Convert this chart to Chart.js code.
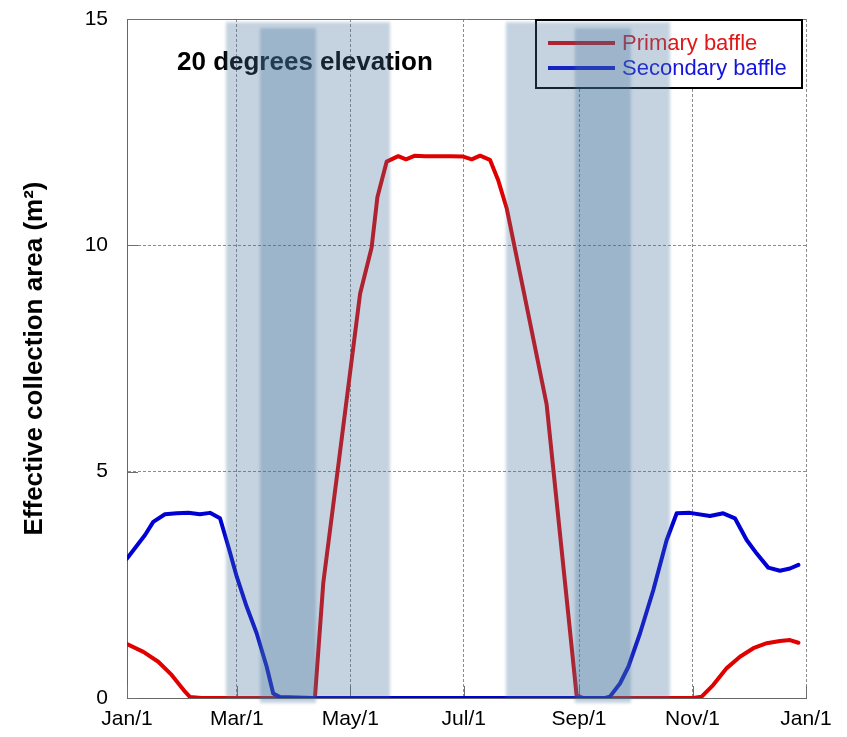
<!DOCTYPE html>
<html>
<head>
<meta charset="utf-8">
<title>Effective collection area</title>
<script src="https://cdn.jsdelivr.net/npm/chart.js@4.4.1/dist/chart.umd.min.js"></script>
<style>
  html, body { margin: 0; padding: 0; background: #fff; }
  #wrap { width: 847px; height: 737px; }
</style>
</head>
<body>
<div id="wrap"><canvas id="c" width="847" height="737"></canvas></div>
<script>
// Day of year (0 = Jan/1) for the x axis ticks
const tickDays = [0, 59, 120, 181, 243, 304, 365];
const tickLabels = ['Jan/1', 'Mar/1', 'May/1', 'Jul/1', 'Sep/1', 'Nov/1', 'Jan/1'];
const yTickValues = [0, 5, 10, 15];

// Primary baffle: effective area (m^2) by day of year
const primaryDays = [0, 8.8, 16.8, 24.0, 31.2, 33.9, 40, 60, 80, 101.0,
  105.5, 114.1, 125.3, 131.5, 134.6, 139.6, 145.8, 150.0, 154.8,
  160, 167, 174, 180.8, 185.3, 189.8, 195.1,
  199.6, 204.1, 213.4, 225.6, 241.7, 245.3,
  260, 280, 304.4,
  308.9, 315.2, 322.4, 329.5, 336.7, 343.9, 351.0, 356.4, 360.9];
const primaryValues = [1.19, 1.02, 0.80, 0.51, 0.14, 0.02, 0, 0, 0, 0,
  2.54, 5.30, 8.93, 9.95, 11.06, 11.85, 11.97, 11.90, 11.98,
  11.97, 11.97, 11.97, 11.96, 11.90, 11.98, 11.89,
  11.43, 10.82, 8.95, 6.48, 0.06, 0,
  0, 0, 0,
  0.03, 0.29, 0.66, 0.91, 1.10, 1.21, 1.26, 1.28, 1.22];

// Secondary baffle: effective area (m^2) by day of year
const secondaryDays = [0, 9.7, 14.1, 20.4, 26.7, 33.0, 39.2, 44.6, 50.0,
  54.5, 59.0, 64.3, 69.7, 75.1, 78.6, 82.2,
  100, 130, 160, 190, 220, 257,
  259.6, 265.0, 269.5, 275.8, 282.9, 290.1, 295.5, 302.6,
  313.4, 320.5, 326.8, 333.1, 338.5, 344.7, 351.0, 356.4, 360.9];
const secondaryValues = [3.08, 3.60, 3.89, 4.06, 4.08, 4.09, 4.06, 4.09, 3.97,
  3.34, 2.68, 2.02, 1.43, 0.69, 0.10, 0.02,
  0, 0, 0, 0, 0, 0,
  0.03, 0.32, 0.69, 1.43, 2.38, 3.49, 4.08, 4.09,
  4.02, 4.08, 3.97, 3.49, 3.19, 2.88, 2.81, 2.86, 2.94];

// Shaded date spans (day of year): wide periods and the narrower core periods
const wideSpans = [[53.2, 141.4], [203.7, 291.9]];
const coreSpans = [[71.5, 101.6], [240.8, 270.9]];

const FONT = "'Liberation Sans', Arial, Helvetica, sans-serif";
const toPoints = (days, vals) => days.map((d, i) => ({ x: d, y: vals[i] }));

// Inward tick marks and the solid top edge of the plot frame
const framePlugin = {
  id: 'frame',
  beforeDatasetsDraw(chart) {
    const { ctx, chartArea: a, scales: { x, y } } = chart;
    ctx.save();
    ctx.strokeStyle = '#6e6e6e';
    ctx.lineWidth = 1;
    ctx.beginPath();
    ctx.moveTo(a.left, Math.round(a.top) + 0.5);
    ctx.lineTo(a.right, Math.round(a.top) + 0.5);
    yTickValues.forEach(v => {
      const py = Math.round(y.getPixelForValue(v)) + 0.5;
      ctx.moveTo(a.left, py);
      ctx.lineTo(a.left + 11, py);
    });
    tickDays.forEach(d => {
      const px = Math.round(x.getPixelForValue(d)) + 0.5;
      ctx.moveTo(px, a.bottom);
      ctx.lineTo(px, a.bottom - 12);
    });
    ctx.stroke();
    ctx.restore();
  }
};

// Panel caption and the boxed legend inside the plot
const annotationPlugin = {
  id: 'annotations',
  afterDatasetsDraw(chart) {
    const { ctx, chartArea: a } = chart;
    ctx.save();
    ctx.fillStyle = '#000';
    ctx.font = 'bold 26px ' + FONT;
    ctx.textBaseline = 'alphabetic';
    ctx.textAlign = 'left';
    ctx.fillText('20 degrees elevation', a.left + 50, a.top + 51);

    const bx = a.right - 271, by = a.top, bw = 268, bh = 70;
    ctx.fillStyle = '#fff';
    ctx.fillRect(bx, by, bw, bh);
    ctx.strokeStyle = '#000';
    ctx.lineWidth = 2;
    ctx.strokeRect(bx + 1, by + 1, bw - 2, bh - 2);

    ctx.font = '22px ' + FONT;
    ctx.textBaseline = 'middle';
    chart.data.datasets.forEach((ds, i) => {
      const ly = by + 24 + i * 25;
      ctx.strokeStyle = ds.borderColor;
      ctx.lineWidth = 4;
      ctx.beginPath();
      ctx.moveTo(bx + 13, ly);
      ctx.lineTo(bx + 80, ly);
      ctx.stroke();
      ctx.fillStyle = ds.legendTextColor;
      ctx.fillText(ds.label, bx + 87, ly + 1);
    });
    ctx.restore();
  }
};

// Translucent shading of the date spans, laid over everything else
const shadePlugin = {
  id: 'shade',
  afterDraw(chart) {
    const { ctx, scales: { x, y } } = chart;
    ctx.save();
    ctx.filter = 'blur(1.5px)';
    ctx.fillStyle = 'rgba(68,113,155,0.31)';
    const fill = (spans, top, bottom) => spans.forEach(([d0, d1]) => {
      const l = x.getPixelForValue(d0), r = x.getPixelForValue(d1);
      const t = y.getPixelForValue(top), b = y.getPixelForValue(bottom);
      ctx.fillRect(l, t, r - l, b - t);
    });
    fill(wideSpans, 14.93, 0);
    fill(coreSpans, 14.8, -0.11);
    ctx.restore();
  }
};

new Chart(document.getElementById('c'), {
  type: 'line',
  data: {
    datasets: [
      {
        label: 'Primary baffle',
        data: toPoints(primaryDays, primaryValues),
        borderColor: '#e00000',
        legendTextColor: '#e01818',
        borderWidth: 4,
        pointRadius: 0,
        tension: 0,
        borderJoinStyle: 'round',
        borderCapStyle: 'round',
        order: 1
      },
      {
        label: 'Secondary baffle',
        data: toPoints(secondaryDays, secondaryValues),
        borderColor: '#0000d4',
        legendTextColor: '#1414dc',
        borderWidth: 4,
        pointRadius: 0,
        tension: 0,
        borderJoinStyle: 'round',
        borderCapStyle: 'round',
        order: 0
      }
    ]
  },
  options: {
    responsive: false,
    animation: false,
    devicePixelRatio: 1,
    layout: { padding: { top: 19, right: 41, left: 0, bottom: 0 } },
    plugins: { legend: { display: false }, tooltip: { enabled: false } },
    scales: {
      x: {
        type: 'linear',
        min: 0,
        max: 365,
        afterBuildTicks: s => { s.ticks = tickDays.map(v => ({ value: v })); },
        afterFit: s => { s.height = 39; },
        ticks: {
          autoSkip: false,
          maxRotation: 0,
          padding: 9,
          color: '#000',
          font: { family: FONT, size: 21 },
          callback: (v, i) => tickLabels[i]
        },
        grid: { color: '#8c8c8c', lineWidth: 1, drawTicks: false, tickLength: 0 },
        border: { display: true, color: '#666', width: 1, dash: [3, 2] }
      },
      y: {
        min: 0,
        max: 15,
        afterBuildTicks: s => { s.ticks = yTickValues.map(v => ({ value: v })); },
        afterFit: s => { s.width = 127; s.paddingTop = 0; s.paddingBottom = 0; },
        ticks: {
          padding: 19,
          color: '#000',
          font: { family: FONT, size: 21 }
        },
        grid: { color: '#8c8c8c', lineWidth: 1, drawTicks: false, tickLength: 0 },
        border: { display: true, color: '#666', width: 1, dash: [3, 2] },
        title: {
          display: true,
          text: 'Effective collection area (m²)',
          color: '#000',
          font: { family: FONT, size: 26, weight: 'bold' },
          padding: { top: 19, bottom: 0 }
        }
      }
    }
  },
  plugins: [framePlugin, annotationPlugin, shadePlugin]
});
</script>
</body>
</html>
